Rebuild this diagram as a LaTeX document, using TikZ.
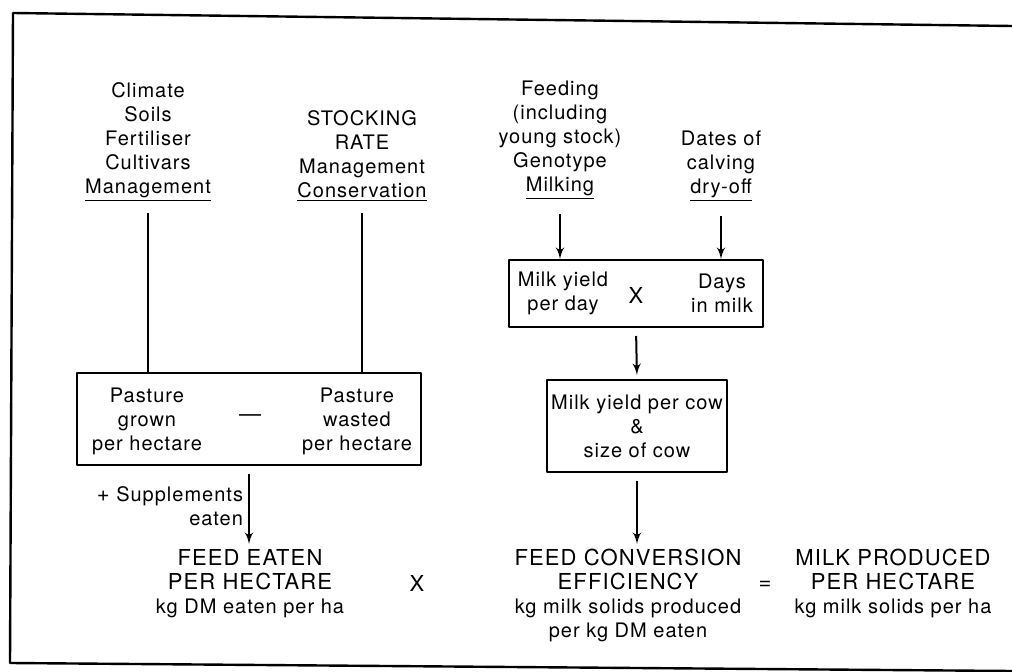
\documentclass[tikz,border=0pt]{standalone}
\usepackage{fontspec}
\setmainfont{TeX Gyre Heros}[LetterSpace=5]
\usetikzlibrary{arrows}

\newcommand{\unitfont}{\fontsize{10bp}{12bp}\selectfont}
\newcommand{\titlefont}{\fontsize{11bp}{12bp}\selectfont}

\tikzset{
  txt/.style={align=center,inner sep=0pt,font=\unitfont},
  box/.style={draw,line width=1bp,inner sep=0pt},
}

\begin{document}
\begin{tikzpicture}[>=latex',line join=bevel,x=0.5bp,y=-0.5bp]
\pgfsetlinewidth{1bp}
\pgfsetcolor{black}
\useasboundingbox (0,0) rectangle (1012,672);

% Frame
\draw [line width=1.2bp] (1012,26) -- (13,13) -- (10,663) -- (1012,671);

% Node: climate
\node [txt] (climate) at (148,142) {Climate\\Soils\\Fertiliser\\Cultivars\\\underline{Management}};

% Node: stocking
\node [txt] (stocking) at (362,156) {STOCKING\\RATE\\Management\\\underline{Conservation}};

% Node: feeding
\node [txt] (feeding) at (560,140) {Feeding\\(including\\young stock)\\Genotype\\\underline{Milking}};

% Node: dates
\node [txt] (dates) at (721,166) {Dates of\\calving\\\underline{dry-off}};

% Node: pasture
\node [box,minimum width=172bp,minimum height=46bp] (pasture) at (249,419) {};
\node [txt] (grown) at (147,421) {Pasture\\grown\\per hectare};
\node [txt,font=\titlefont] (minus) at (250,418) {---};
\node [txt] (wasted) at (357,421) {Pasture\\wasted\\per hectare};

% Node: yieldbox
\node [box,minimum width=127bp,minimum height=33.5bp] (yieldbox) at (636,293.5) {};
\node [txt] (perday) at (563,293) {Milk yield\\per day};
\node [txt,font=\titlefont] (by) at (636,295) {X};
\node [txt] (inmilk) at (722,293) {Days\\in milk};

% Node: cowbox
\node [box,minimum width=90bp,minimum height=46bp,align=center,font=\unitfont] (cowbox) at (637,426) {Milk yield per cow\\\&\\size of cow};

% Node: supp
\node [txt,align=right,anchor=east] (supp) at (244,506) {{\titlefont +} Supplements\\eaten};

% Node: feed
\node [txt,anchor=north] (feed) at (250,548) {{\titlefont FEED EATEN}\\{\titlefont PER HECTARE}\\kg DM eaten per ha};

% Node: times
\node [txt,font=\titlefont] (times) at (417,583) {X};

% Node: fce
\node [txt,anchor=north] (fce) at (628,548) {{\titlefont FEED CONVERSION}\\{\titlefont EFFICIENCY}\\kg milk solids produced\\per kg DM eaten};

% Node: equals
\node [txt,font=\titlefont] (equals) at (765,585) {=};

% Node: milk
\node [txt,anchor=north] (milk) at (893,548) {{\titlefont MILK PRODUCED}\\{\titlefont PER HECTARE}\\kg milk solids per ha};

% Edge: climate -> pasture
\draw [shorten <=5bp] (climate.south) -- (climate.south |- pasture.north);

% Edge: stocking -> pasture
\draw [shorten <=5bp] (stocking.south) -- (stocking.south |- pasture.north);

% Edge: feeding -> yieldbox
\draw [->,shorten <=7bp] (feeding.south) -- (feeding.south |- yieldbox.north);

% Edge: dates -> yieldbox
\draw [->,shorten <=7bp] (dates.south) -- (dates.south |- yieldbox.north);

% Edge: yieldbox -> cowbox
\draw [->,shorten <=4bp,shorten >=2bp] (yieldbox.south) -- (cowbox.north);

% Edge: cowbox -> fce
\draw [->,shorten <=4bp,shorten >=2bp] (cowbox.south) -- (cowbox.south |- fce.north);

% Edge: pasture -> feed
\draw [->,shorten <=4bp,shorten >=2bp] (pasture.south) -- (pasture.south |- feed.north);

\end{tikzpicture}
\end{document}
